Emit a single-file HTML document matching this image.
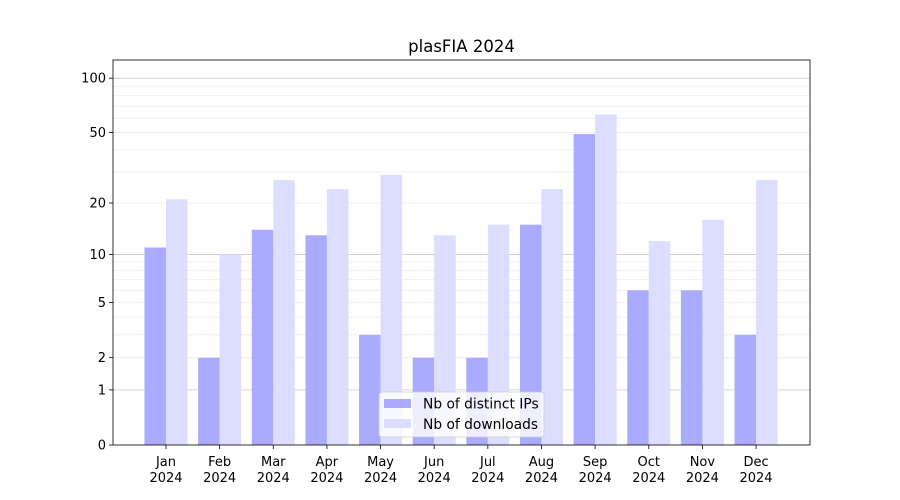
<!DOCTYPE html>
<html><head><meta charset="utf-8"><style>
body{margin:0;background:#fff;}
svg{display:block;font-family:"DejaVu Sans","Liberation Sans",sans-serif;}
</style></head><body>
<svg id="chart" width="900" height="500"></svg>
<script>
const months = ["Jan","Feb","Mar","Apr","May","Jun","Jul","Aug","Sep","Oct","Nov","Dec"];
const year = "2024";
const distinctIPs = [11,2,14,13,3,2,2,15,49,6,6,3];
const downloads = [21,10,27,24,29,13,15,24,63,12,16,27];
const yTicks = [0,1,2,5,10,20,50,100];
const majorGrid = [1,10,100];
const minorGrid = [2,3,4,5,6,7,8,9,20,30,40,50,60,70,80,90];

const NS="http://www.w3.org/2000/svg";
const svg=document.getElementById('chart');
const L=113,R=810,T=60,B=445;
function y(v){return B-183*Math.log10(1+v);}
function x(i){return 166+i*53.64;}
function mk(tag,attrs,parent){const e=document.createElementNS(NS,tag);for(const k in attrs)e.setAttribute(k,attrs[k]);(parent||svg).appendChild(e);return e;}

const gridG=mk('g',{});


minorGrid.forEach(v=>{const l=mk('line',{x1:L,x2:R,y1:y(v),y2:y(v),stroke:'#ebebeb','stroke-width':0.8},gridG);

});
majorGrid.forEach(v=>{const l=mk('line',{x1:L,x2:R,y1:y(v),y2:y(v),stroke:'#c8c8c8','stroke-width':0.8},gridG);

});

const bw=21.5;
months.forEach((m,i)=>{
  const b1=mk('rect',{x:x(i)-bw,y:y(distinctIPs[i]),width:bw,height:B-y(distinctIPs[i]),fill:'#aaaaff'});
  
  
  const b2=mk('rect',{x:x(i),y:y(downloads[i]),width:bw,height:B-y(downloads[i]),fill:'#ddddff'});
  
  
  const t=mk('line',{x1:x(i),x2:x(i),y1:B,y2:B+4,stroke:'#000','stroke-width':0.8});
  
  
  const lb=mk('text',{x:x(i),y:B+21,'font-size':13,'text-anchor':'middle'});
  
  
  lb.textContent=m;
  const lb2=mk('text',{x:x(i),y:B+37,'font-size':13,'text-anchor':'middle'});
  
  
  lb2.textContent=year;
});

yTicks.forEach(v=>{
  const t=mk('line',{x1:L-4,x2:L,y1:y(v),y2:y(v),stroke:'#000','stroke-width':0.8});
  
  
  const lb=mk('text',{x:L-7,y:y(v)+4.5,'font-size':13,'text-anchor':'end'});
  
  
  lb.textContent=v;
});

const frame=mk('rect',{x:L,y:T,width:R-L,height:B-T,fill:'none',stroke:'#000','stroke-width':0.8});



const title=mk('text',{x:461.5,y:52,'font-size':16.5,'text-anchor':'middle'});


title.textContent='plasFIA 2024';

const lg=mk('g',{});


mk('rect',{x:379,y:392,width:165,height:45,rx:3,fill:'#fff','fill-opacity':0.8,stroke:'#ccc','stroke-width':0.8},lg);
mk('rect',{x:384,y:399,width:27,height:9,fill:'#aaaaff'},lg);
mk('rect',{x:384,y:419,width:27,height:9,fill:'#ddddff'},lg);
const e1=mk('text',{x:423,y:408.5,'font-size':13.8},lg);


e1.textContent='Nb of distinct IPs';
const e2=mk('text',{x:423,y:429,'font-size':13.8},lg);


e2.textContent='Nb of downloads';
</script>
</body></html>
